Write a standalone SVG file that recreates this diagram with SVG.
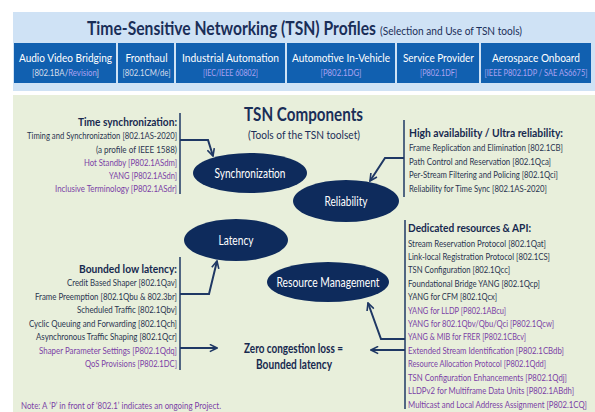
<svg xmlns="http://www.w3.org/2000/svg" width="595" height="412" viewBox="0 0 595 412">
<defs>
<style>
text{font-family:Lato,"Open Sans","Liberation Sans",sans-serif;}
.ttl{font-size:18.5px;font-weight:bold;fill:#1a2e58;}
.sub{font-size:11px;fill:#1a2e58;}
.box{fill:#1160b0;}
.bl1{font-size:12px;fill:#ffffff;text-anchor:middle;}
.bl2{font-size:8.5px;fill:#d6deec;text-anchor:middle;}
.lav{fill:#aba2f2;}
.hd{font-size:12px;font-weight:bold;fill:#17294f;}
.it{font-size:9.6px;fill:#2a3550;}
.pp{font-size:9.6px;fill:#7b3fa6;}
.r{text-anchor:end;}
.ell{fill:#0e2b5c;}
.el{font-size:12.5px;fill:#ffffff;text-anchor:middle;}
.bar{stroke:#1f3864;stroke-width:1.5;fill:none;}
.con{stroke:#1f3864;stroke-width:2;fill:none;marker-end:url(#ah);}
.zc{font-size:12.5px;font-weight:bold;fill:#17294f;text-anchor:middle;}
</style>
<marker id="ah" viewBox="0 0 10 10" refX="9" refY="5" markerWidth="4.5" markerHeight="4.5" orient="auto" markerUnits="strokeWidth">
<path d="M1,1 L9,5 L1,9" fill="none" stroke="#1f3864" stroke-width="1.8"/>
</marker>
</defs>
<rect x="0" y="0" width="595" height="412" fill="#ffffff"/>
<rect x="13" y="12" width="582" height="79" fill="#cfe2f5"/>
<rect x="13" y="95" width="582" height="317" fill="#e8efdb"/>

<g id="title">
<text x="87" y="35" class="ttl" textLength="289" lengthAdjust="spacingAndGlyphs">Time-Sensitive Networking (TSN) Profiles</text>
<text x="380" y="35" class="sub" textLength="142" lengthAdjust="spacingAndGlyphs">(Selection and Use of TSN tools)</text>
</g>

<g id="profile-avb">
<rect x="14" y="43" width="102" height="40" class="box"/>
<text x="65.5" y="62" class="bl1" textLength="93" lengthAdjust="spacingAndGlyphs">Audio Video Bridging</text>
<text x="65.5" y="76" class="bl2" textLength="67" lengthAdjust="spacingAndGlyphs">[802.1BA/<tspan class="lav">Revision</tspan>]</text>
</g>
<g id="profile-fronthaul">
<rect x="118" y="43" width="56" height="40" class="box"/>
<text x="146.5" y="62" class="bl1" textLength="42" lengthAdjust="spacingAndGlyphs">Fronthaul</text>
<text x="146.5" y="76" class="bl2" textLength="48" lengthAdjust="spacingAndGlyphs">[802.1CM/de]</text>
</g>
<g id="profile-industrial">
<rect x="176" y="43" width="109" height="40" class="box"/>
<text x="230.5" y="62" class="bl1" textLength="97" lengthAdjust="spacingAndGlyphs">Industrial Automation</text>
<text x="230.5" y="76" class="bl2 lav" textLength="55" lengthAdjust="spacingAndGlyphs">[IEC/IEEE 60802]</text>
</g>
<g id="profile-automotive">
<rect x="287" y="43" width="108" height="40" class="box"/>
<text x="341" y="62" class="bl1" textLength="98" lengthAdjust="spacingAndGlyphs">Automotive In-Vehicle</text>
<text x="341" y="76" class="bl2 lav" textLength="41" lengthAdjust="spacingAndGlyphs">[P802.1DG]</text>
</g>
<g id="profile-service">
<rect x="397" y="43" width="82" height="40" class="box"/>
<text x="438.5" y="62" class="bl1" textLength="71" lengthAdjust="spacingAndGlyphs">Service Provider</text>
<text x="438.5" y="76" class="bl2 lav" textLength="37" lengthAdjust="spacingAndGlyphs">[P802.1DF]</text>
</g>
<g id="profile-aerospace">
<rect x="481" y="43" width="110" height="40" class="box"/>
<text x="536" y="62" class="bl1" textLength="88" lengthAdjust="spacingAndGlyphs">Aerospace Onboard</text>
<text x="536" y="76" class="bl2 lav" textLength="103" lengthAdjust="spacingAndGlyphs">[IEEE P802.1DP / SAE AS6675]</text>
</g>

<g id="components-title">
<text x="303.5" y="121" class="ttl" style="font-size:18px;text-anchor:middle" textLength="119" lengthAdjust="spacingAndGlyphs">TSN Components</text>
<text x="304" y="139" class="sub" style="text-anchor:middle" textLength="112" lengthAdjust="spacingAndGlyphs">(Tools of the TSN toolset)</text>
</g>

<g id="sync-list">
<line x1="180" y1="113" x2="180" y2="194" class="bar"/>
<text x="177" y="126" class="hd r" textLength="99" lengthAdjust="spacingAndGlyphs">Time synchronization:</text>
<text x="177" y="139" class="it r" textLength="150" lengthAdjust="spacingAndGlyphs">Timing and Synchronization [802.1AS-2020]</text>
<text x="177" y="152.5" class="it r" textLength="81" lengthAdjust="spacingAndGlyphs">(a profile of IEEE 1588)</text>
<text x="177" y="165.5" class="pp r" textLength="93" lengthAdjust="spacingAndGlyphs">Hot Standby [P802.1ASdm]</text>
<text x="177" y="178.5" class="pp r" textLength="68" lengthAdjust="spacingAndGlyphs">YANG [P802.1ASdn]</text>
<text x="177" y="191.5" class="pp r" textLength="122" lengthAdjust="spacingAndGlyphs">Inclusive Terminology [P802.1ASdr]</text>
</g>

<g id="reliability-list">
<line x1="404" y1="120" x2="404" y2="197" class="bar"/>
<text x="409" y="136.5" class="hd" textLength="154" lengthAdjust="spacingAndGlyphs">High availability / Ultra reliability:</text>
<text x="409" y="151" class="it" textLength="154" lengthAdjust="spacingAndGlyphs">Frame Replication and Elimination [802.1CB]</text>
<text x="409" y="164.5" class="it" textLength="142" lengthAdjust="spacingAndGlyphs">Path Control and Reservation [802.1Qca]</text>
<text x="409" y="178" class="it" textLength="149" lengthAdjust="spacingAndGlyphs">Per-Stream Filtering and Policing [802.1Qci]</text>
<text x="409" y="191.5" class="it" textLength="138" lengthAdjust="spacingAndGlyphs">Reliability for Time Sync [802.1AS-2020]</text>
</g>

<g id="latency-list">
<line x1="180" y1="257" x2="180" y2="370" class="bar"/>
<text x="177" y="272.5" class="hd r" textLength="98" lengthAdjust="spacingAndGlyphs">Bounded low latency:</text>
<text x="177" y="286" class="it r" textLength="110" lengthAdjust="spacingAndGlyphs">Credit Based Shaper [802.1Qav]</text>
<text x="177" y="299.5" class="it r" textLength="142" lengthAdjust="spacingAndGlyphs">Frame Preemption [802.1Qbu &amp; 802.3br]</text>
<text x="177" y="313" class="it r" textLength="100" lengthAdjust="spacingAndGlyphs">Scheduled Traffic [802.1Qbv]</text>
<text x="177" y="326.5" class="it r" textLength="148" lengthAdjust="spacingAndGlyphs">Cyclic Queuing and Forwarding [802.1Qch]</text>
<text x="177" y="340" class="it r" textLength="141" lengthAdjust="spacingAndGlyphs">Asynchronous Traffic Shaping [802.1Qcr]</text>
<text x="177" y="353.5" class="pp r" textLength="138" lengthAdjust="spacingAndGlyphs">Shaper Parameter Settings [P802.1Qdq]</text>
<text x="177" y="367" class="pp r" textLength="92" lengthAdjust="spacingAndGlyphs">QoS Provisions [P802.1DC]</text>
</g>

<g id="resources-list">
<line x1="405" y1="220" x2="405" y2="409" class="bar"/>
<text x="408" y="231.5" class="hd" textLength="123" lengthAdjust="spacingAndGlyphs">Dedicated resources &amp; API:</text>
<text x="408" y="246.5" class="it" textLength="138" lengthAdjust="spacingAndGlyphs">Stream Reservation Protocol [802.1Qat]</text>
<text x="408" y="259.9" class="it" textLength="142" lengthAdjust="spacingAndGlyphs">Link-local Registration Protocol [802.1CS]</text>
<text x="408" y="273.3" class="it" textLength="102" lengthAdjust="spacingAndGlyphs">TSN Configuration [802.1Qcc]</text>
<text x="408" y="286.8" class="it" textLength="132" lengthAdjust="spacingAndGlyphs">Foundational Bridge YANG [802.1Qcp]</text>
<text x="408" y="300.2" class="it" textLength="89" lengthAdjust="spacingAndGlyphs">YANG for CFM [802.1Qcx]</text>
<text x="408" y="313.6" class="pp" textLength="98" lengthAdjust="spacingAndGlyphs">YANG for LLDP [P802.1ABcu]</text>
<text x="408" y="327" class="pp" textLength="146" lengthAdjust="spacingAndGlyphs">YANG for 802.1Qbv/Qbu/Qci [P802.1Qcw]</text>
<text x="408" y="340.4" class="pp" textLength="118" lengthAdjust="spacingAndGlyphs">YANG &amp; MIB for FRER [P802.1CBcv]</text>
<text x="408" y="353.9" class="pp" textLength="156" lengthAdjust="spacingAndGlyphs">Extended Stream Identification [P802.1CBdb]</text>
<text x="408" y="367.3" class="pp" textLength="138" lengthAdjust="spacingAndGlyphs">Resource Allocation Protocol [P802.1Qdd]</text>
<text x="408" y="380.7" class="pp" textLength="159" lengthAdjust="spacingAndGlyphs">TSN Configuration Enhancements [P802.1Qdj]</text>
<text x="408" y="394.1" class="pp" textLength="166" lengthAdjust="spacingAndGlyphs">LLDPv2 for Multiframe Data Units [P802.1ABdh]</text>
<text x="408" y="407.5" class="pp" textLength="179" lengthAdjust="spacingAndGlyphs">Multicast and Local Address Assignment [P802.1CQ]</text>
</g>

<g id="synchronization">
<ellipse cx="250" cy="173" rx="57" ry="20" class="ell"/>
<text x="250" y="177.5" class="el" textLength="71" lengthAdjust="spacingAndGlyphs">Synchronization</text>
</g>
<g id="reliability">
<ellipse cx="346" cy="201" rx="53" ry="21" class="ell"/>
<text x="346" y="205.5" class="el" textLength="43" lengthAdjust="spacingAndGlyphs">Reliability</text>
</g>
<g id="latency">
<ellipse cx="236" cy="240" rx="52" ry="21" class="ell"/>
<text x="236" y="244.5" class="el" textLength="35" lengthAdjust="spacingAndGlyphs">Latency</text>
</g>
<g id="resource-management">
<ellipse cx="328" cy="282" rx="61" ry="20" class="ell"/>
<text x="328" y="286.5" class="el" textLength="103" lengthAdjust="spacingAndGlyphs">Resource Management</text>
</g>

<g id="zero-congestion">
<text x="293.5" y="352.5" class="zc" textLength="99" lengthAdjust="spacingAndGlyphs">Zero congestion loss =</text>
<text x="294" y="368.5" class="zc" textLength="76" lengthAdjust="spacingAndGlyphs">Bounded latency</text>
</g>

<g id="note">
<text x="21" y="409" class="pp" style="font-size:9.2px" textLength="200" lengthAdjust="spacingAndGlyphs">Note: A ‘P’ in front of ‘802.1’ indicates an ongoing Project.</text>
</g>

<g id="connectors">
<path d="M180,140 H208 L213,156" class="con"/>
<path d="M404,158 H385 L370,181" class="con"/>
<path d="M180,294 H209 L217,261" class="con"/>
<path d="M180,348 H217" class="con"/>
<path d="M405,339 H381 L368,303" class="con"/>
<path d="M405,350 H371" class="con"/>
</g>
</svg>
